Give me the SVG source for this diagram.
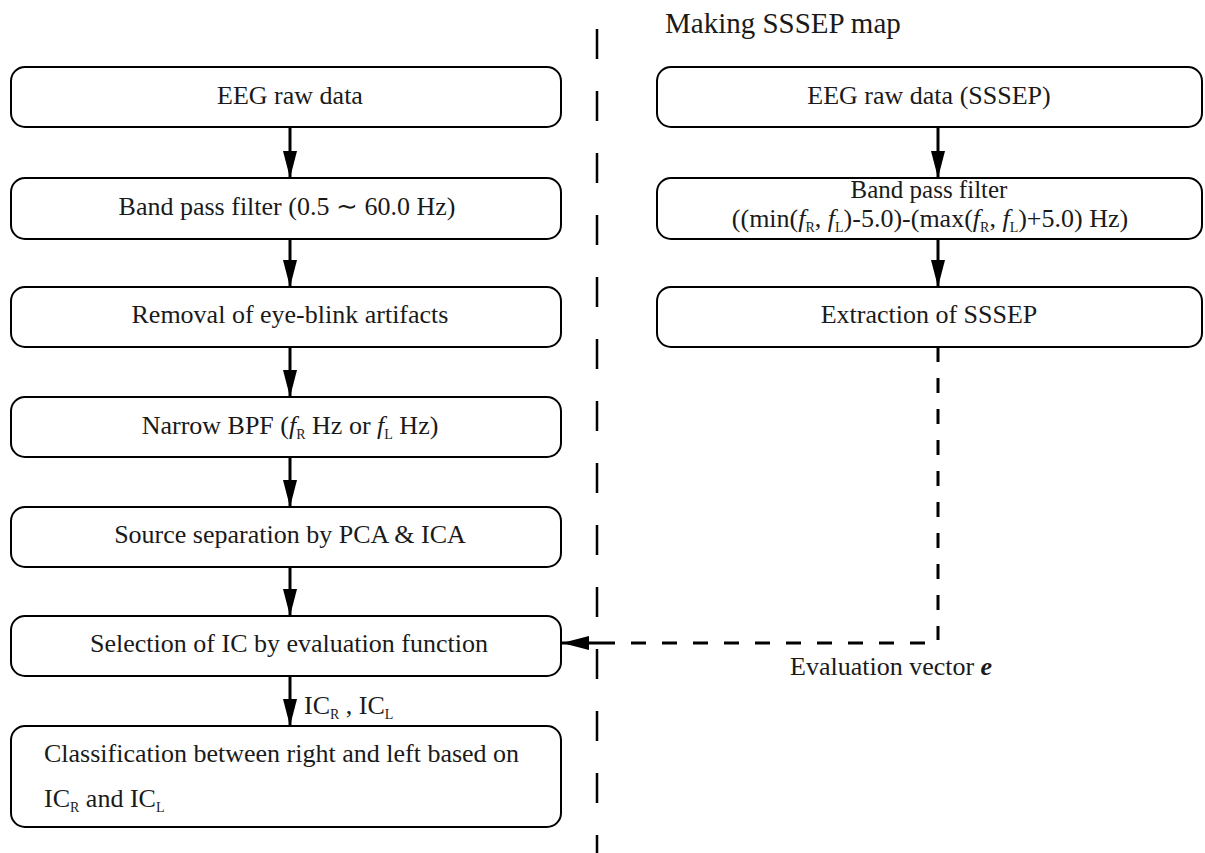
<svg xmlns="http://www.w3.org/2000/svg" width="1205" height="853" viewBox="0 0 1205 853">
  <style>
    .box { fill: #ffffff; stroke: #000000; stroke-width: 2; }
    .t { font-family: "Liberation Serif", "Times New Roman", serif; font-size: 26px; fill: #1a1a1a; }
    .c { text-anchor: middle; }
    .it { font-style: italic; }
    .sub { font-size: 14px; }
    .flow { stroke: #000000; stroke-width: 3; fill: none; }
    .dash { stroke: #000000; stroke-width: 3; fill: none; stroke-dasharray: 15 16; }
    .divider { stroke: #000000; stroke-width: 2.5; fill: none; stroke-dasharray: 30 32; }
  </style>
  <defs>
    <marker id="ah" markerWidth="28" markerHeight="16" refX="27" refY="7" orient="auto" markerUnits="userSpaceOnUse">
      <path d="M0,0 L27,7 L0,14 z" fill="#000000"/>
    </marker>
  </defs>

  <rect width="1205" height="853" fill="#ffffff"/>

  <!-- column divider -->
  <line class="divider" x1="597" y1="29" x2="597" y2="853"/>

  <text class="t" x="665" y="33" style="font-size:29px">Making SSSEP map</text>

  <!-- left column: classification pipeline -->
  <g id="raw">
    <rect class="box" x="11" y="67" width="550" height="60" rx="14"/>
    <text class="t c" x="290" y="104">EEG raw data</text>
  </g>
  <g id="bpf">
    <rect class="box" x="11" y="178" width="550" height="61" rx="14"/>
    <text class="t c" x="287" y="215">Band pass filter (0.5 ∼ 60.0 Hz)</text>
  </g>
  <g id="blink">
    <rect class="box" x="11" y="287" width="550" height="60" rx="14"/>
    <text class="t c" x="290" y="323">Removal of eye-blink artifacts</text>
  </g>
  <g id="narrow">
    <rect class="box" x="11" y="397" width="550" height="60" rx="14"/>
    <text class="t c" x="290" y="434">Narrow BPF (<tspan class="it">f</tspan><tspan class="sub" dy="5">R</tspan><tspan dy="-5"> Hz or </tspan><tspan class="it">f</tspan><tspan class="sub" dy="5">L</tspan><tspan dy="-5"> Hz)</tspan></text>
  </g>
  <g id="ica">
    <rect class="box" x="11" y="507" width="550" height="60" rx="14"/>
    <text class="t c" x="290" y="543">Source separation by PCA &amp; ICA</text>
  </g>
  <g id="select">
    <rect class="box" x="11" y="616" width="550" height="60" rx="14"/>
    <text class="t c" x="289" y="652">Selection of IC by evaluation function</text>
  </g>
  <g id="classify">
    <rect class="box" x="11" y="726" width="550" height="101" rx="14"/>
    <text class="t" x="44" y="762">Classification between right and left based on</text>
    <text class="t" x="44" y="807">IC<tspan class="sub" dy="5">R</tspan><tspan dy="-5"> and IC</tspan><tspan class="sub" dy="5">L</tspan></text>
  </g>

  <!-- right column: SSSEP map -->
  <g id="raw-sssep">
    <rect class="box" x="657" y="67" width="545" height="60" rx="14"/>
    <text class="t c" x="929" y="104">EEG raw data (SSSEP)</text>
  </g>
  <g id="bpf-sssep">
    <rect class="box" x="657" y="178" width="545" height="61" rx="14"/>
    <text class="t c" x="929" y="198" style="font-size:25px">Band pass filter</text>
    <text class="t c" x="930" y="227" style="font-size:26px">((min(<tspan class="it">f</tspan><tspan class="sub" dy="5">R</tspan><tspan dy="-5">, </tspan><tspan class="it">f</tspan><tspan class="sub" dy="5">L</tspan><tspan dy="-5">)-5.0)-(max(</tspan><tspan class="it">f</tspan><tspan class="sub" dy="5">R</tspan><tspan dy="-5">, </tspan><tspan class="it">f</tspan><tspan class="sub" dy="5">L</tspan><tspan dy="-5">)+5.0) Hz)</tspan></text>
  </g>
  <g id="extract">
    <rect class="box" x="657" y="287" width="545" height="60" rx="14"/>
    <text class="t c" x="929" y="323">Extraction of SSSEP</text>
  </g>

  <!-- connectors -->
  <g id="connectors">
    <line class="flow" x1="290" y1="127" x2="290" y2="178" marker-end="url(#ah)"/>
    <line class="flow" x1="290" y1="239" x2="290" y2="287" marker-end="url(#ah)"/>
    <line class="flow" x1="290" y1="347" x2="290" y2="397" marker-end="url(#ah)"/>
    <line class="flow" x1="290" y1="457" x2="290" y2="507" marker-end="url(#ah)"/>
    <line class="flow" x1="290" y1="567" x2="290" y2="616" marker-end="url(#ah)"/>
    <line class="flow" x1="290" y1="676" x2="290" y2="726" marker-end="url(#ah)"/>
    <line class="flow" x1="938" y1="127" x2="938" y2="178" marker-end="url(#ah)"/>
    <line class="flow" x1="938" y1="239" x2="938" y2="287" marker-end="url(#ah)"/>
    <polyline class="dash" points="938,347 938,640"/>
    <line class="dash" x1="925" y1="643" x2="590" y2="643"/>
    <line class="flow" x1="600" y1="643" x2="562" y2="643" marker-end="url(#ah)"/>
  </g>

  <!-- connector labels -->
  <text class="t" x="304" y="714">IC<tspan class="sub" dy="5">R</tspan><tspan dy="-5"> , IC</tspan><tspan class="sub" dy="5">L</tspan></text>
  <text class="t" x="790" y="675">Evaluation vector <tspan font-style="italic" font-weight="bold">e</tspan></text>
</svg>
